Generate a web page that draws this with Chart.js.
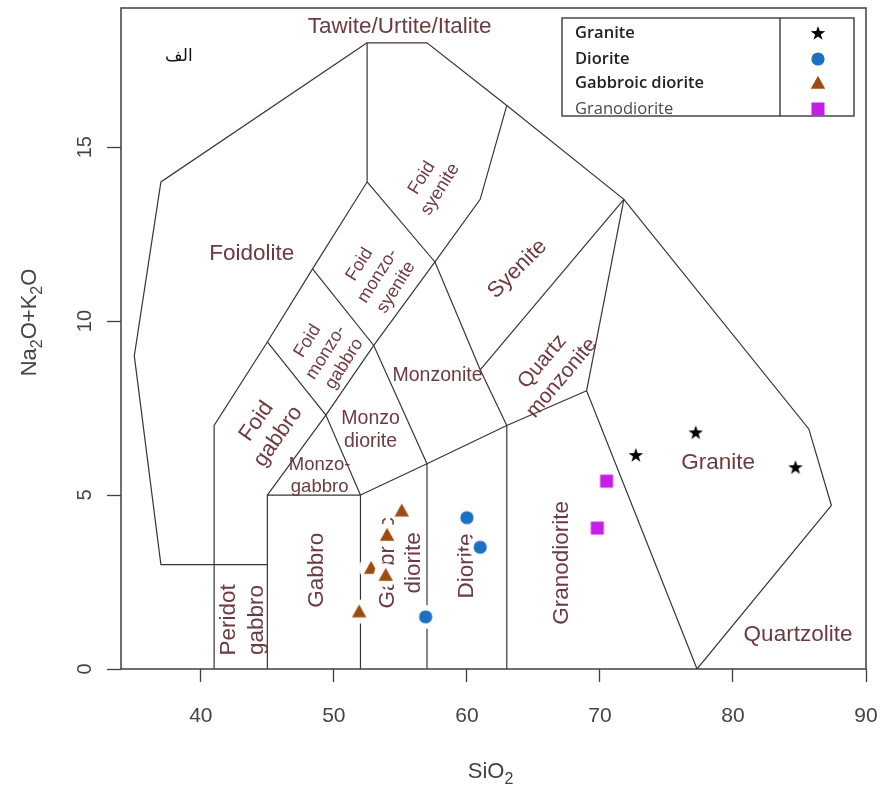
<!DOCTYPE html>
<html>
<head>
<meta charset="utf-8">
<title>TAS plutonic classification</title>
<script src="https://cdn.jsdelivr.net/npm/chart.js@4.4.1/dist/chart.umd.min.js"></script>
<style>
  html, body { margin: 0; padding: 0; background: #ffffff; }
  #wrap { width: 883px; height: 787px; }
</style>
</head>
<body>
<div id="wrap"><canvas id="tas" width="883" height="787"></canvas></div>
<script>
// ---- sample series (SiO2 wt%, Na2O+K2O wt%) ----
const seriesNames = ['Granite', 'Diorite', 'Gabbroic diorite', 'Granodiorite'];
const graniteSiO2 = [72.7, 77.2, 84.7];
const graniteAlk = [6.15, 6.8, 5.8];
const dioriteSiO2 = [60.0, 61.0, 56.9];
const dioriteAlk = [4.35, 3.5, 1.5];
const gabbroicSiO2 = [55.1, 54.0, 52.8, 53.9, 51.9];
const gabbroicAlk = [4.55, 3.85, 2.9, 2.7, 1.65];
const granodioriteSiO2 = [70.5, 69.8];
const granodioriteAlk = [5.4, 4.05];

// ---- axis ranges and ticks ----
const xRange = [34, 90];
const yRange = [0, 19];
const xTicks = [40, 50, 60, 70, 80, 90];
const yTicks = [0, 5, 10, 15];
const xTitle = [['SiO', 0], ['2', 1]];
const yTitle = [['Na', 0], ['2', 1], ['O+K', 0], ['2', 1], ['O', 0]];

// ---- field boundaries of the plutonic TAS diagram (SiO2, Na2O+K2O) ----
const outerBoundary = [[41, 0], [41, 7], [45, 9.4], [48.4, 11.5], [52.5, 14], [52.5, 18], [57, 18],
  [63, 16.2], [71.8, 13.5], [85.7, 6.9], [87.4, 4.7], [77.3, 0]];
const foidoliteBoundary = [[52.5, 18], [37, 14], [35, 9], [37, 3], [45, 3]];
const gabbroBoundary = [[45, 0], [45, 5], [52, 5], [52, 0]];
const lowerSeries = [[52, 5], [57, 5.9], [63, 7], [69, 8], [77.3, 0]];
const dioriteLeft = [[57, 0], [57, 5.9]];
const dioriteRight = [[63, 0], [63, 7]];
const graniteLeft = [[69, 8], [71.8, 13.5]];
const monzoDiagonal = [[45, 5], [49.4, 7.3], [53, 9.3], [57.6, 11.7], [61, 13.5], [63, 16.2]];
const foidGabbroRight = [[45, 9.4], [49.4, 7.3], [52, 5]];
const monzoGabbroTop = [[48.4, 11.5], [53, 9.3], [57, 5.9]];
const syeniteLower = [[52.5, 14], [57.6, 11.7], [61, 8.6], [63, 7]];
const quartzMonzoniteTop = [[61, 8.6], [71.8, 13.5]];
const fieldLines = [outerBoundary, foidoliteBoundary, gabbroBoundary, lowerSeries, dioriteLeft,
  dioriteRight, graniteLeft, monzoDiagonal, foidGabbroRight, monzoGabbroTop, syeniteLower, quartzMonzoniteTop];

// ---- field names, anchored at (SiO2, Na2O+K2O) ----
const fieldLabels = [
  { text: ['Tawite/Urtite/Italite'], at: [54.94, 18.45], rot: 0, size: 22.5 },
  { text: ['Foidolite'], at: [43.83, 11.93], rot: 0, size: 22.5 },
  { text: ['Foid', 'syenite'], at: [57.3, 13.95], rot: -58, size: 18 },
  { text: ['Foid', 'monzo-', 'syenite'], at: [53.3, 11.3], rot: -58, size: 18 },
  { text: ['Foid', 'monzo-', 'gabbro'], at: [49.4, 9.1], rot: -58, size: 18 },
  { text: ['Foid', 'gabbro'], at: [45.0, 6.9], rot: -55, size: 22 },
  { text: ['Syenite'], at: [63.8, 11.5], rot: -45, size: 22 },
  { text: ['Quartz', 'monzonite'], at: [66.4, 8.6], rot: -50, size: 21 },
  { text: ['Monzonite'], at: [57.79, 8.42], rot: 0, size: 19.5 },
  { text: ['Monzo', 'diorite'], at: [52.76, 6.87], rot: 0, size: 19.5 },
  { text: ['Monzo-', 'gabbro'], at: [48.93, 5.55], rot: 0, size: 18.5 },
  { text: ['Gabbro'], at: [48.71, 2.84], rot: -90, size: 22.5 },
  { text: ['Peridot', 'gabbro'], at: [43.15, 1.41], rot: -90, size: 22.5, lh: 1.25 },
  { text: ['Gabbroic', 'diorite'], at: [55.02, 3.05], rot: -90, size: 22.5, lh: 1.15 },
  { text: ['Diorite'], at: [59.97, 2.96], rot: -90, size: 22.5 },
  { text: ['Granodiorite'], at: [67.1, 3.05], rot: -90, size: 22.5 },
  { text: ['Granite'], at: [78.89, 5.92], rot: 0, size: 22.5 },
  { text: ['Quartzolite'], at: [84.89, 0.98], rot: 0, size: 22.5 }
];
const panelTag = { text: 'الف', at: [38.35, 17.59] };

const FONT = '"Liberation Sans", Arial, sans-serif';
const LABEL_COLOR = '#6e3a3f';
const AXIS_COLOR = '#444444';

// Marker glyphs, optionally sitting on a white disc so they stand clear of lines and names
function markerCanvas(kind, color, halo) {
  const S = 28, m = S / 2;
  const c = document.createElement('canvas');
  c.width = S; c.height = S;
  const g = c.getContext('2d');
  if (halo) {
    g.fillStyle = '#ffffff';
    g.beginPath(); g.arc(m, m, halo, 0, Math.PI * 2); g.fill();
  }
  g.fillStyle = color;
  g.beginPath();
  if (kind === 'star') {
    for (let i = 0; i < 10; i++) {
      const r = i % 2 ? 3.0 : 7.6;
      const a = -Math.PI / 2 + i * Math.PI / 5;
      g.lineTo(m + r * Math.cos(a), m + 0.5 + r * Math.sin(a));
    }
    g.closePath(); g.fill();
  } else if (kind === 'circle') {
    g.arc(m, m, 6.6, 0, Math.PI * 2); g.fill();
  } else if (kind === 'triangle') {
    g.moveTo(m, m - 7.2); g.lineTo(m + 7.2, m + 5.8); g.lineTo(m - 7.2, m + 5.8);
    g.closePath(); g.fill();
  } else {
    g.fillRect(m - 6.5, m - 6.5, 13, 13);
  }
  return c;
}

const seriesStyle = [
  { kind: 'star', color: '#000000' },
  { kind: 'circle', color: '#1b70c1' },
  { kind: 'triangle', color: '#9c4c12' },
  { kind: 'square', color: '#c41fe8' }
];
const plotMarkers = seriesStyle.map(s => markerCanvas(s.kind, s.color, 12));
const keyMarkers = seriesStyle.map(s => markerCanvas(s.kind, s.color, 0));

function toPoints(xs, ys) { return xs.map((v, i) => ({ x: v, y: ys[i] })); }
const seriesData = [
  toPoints(graniteSiO2, graniteAlk),
  toPoints(dioriteSiO2, dioriteAlk),
  toPoints(gabbroicSiO2, gabbroicAlk),
  toPoints(granodioriteSiO2, granodioriteAlk)
];

// Text with subscript runs: parts = [[string, isSub], ...]
function drawSubText(ctx, parts, cx, cy, size) {
  const sub = Math.round(size * 0.72);
  let w = 0;
  parts.forEach(([t, s]) => { ctx.font = (s ? sub : size) + 'px ' + FONT; w += ctx.measureText(t).width; });
  let x = cx - w / 2;
  ctx.textAlign = 'left';
  ctx.textBaseline = 'alphabetic';
  parts.forEach(([t, s]) => {
    ctx.font = (s ? sub : size) + 'px ' + FONT;
    ctx.fillText(t, x, cy + size * 0.36 + (s ? size * 0.28 : 0));
    x += ctx.measureText(t).width;
  });
}

const tasPlugin = {
  id: 'tasDiagram',
  beforeDatasetsDraw(chart) {
    const { ctx, chartArea: a, scales: { x, y } } = chart;
    ctx.save();
    ctx.beginPath();
    ctx.rect(a.left, a.top, a.right - a.left, a.bottom - a.top);
    ctx.clip();
    // field boundaries
    ctx.strokeStyle = '#3b3434';
    ctx.lineWidth = 1.2;
    ctx.lineJoin = 'miter';
    fieldLines.forEach(line => {
      ctx.beginPath();
      line.forEach(([sx, ay], i) => {
        const px = x.getPixelForValue(sx), py = y.getPixelForValue(ay);
        if (i) ctx.lineTo(px, py); else ctx.moveTo(px, py);
      });
      ctx.stroke();
    });
    // field names
    ctx.fillStyle = LABEL_COLOR;
    ctx.textAlign = 'center';
    ctx.textBaseline = 'middle';
    fieldLabels.forEach(l => {
      const px = x.getPixelForValue(l.at[0]), py = y.getPixelForValue(l.at[1]);
      const lh = l.size * (l.lh || 1.2);
      ctx.save();
      ctx.translate(px, py);
      ctx.rotate(l.rot * Math.PI / 180);
      ctx.font = l.size + 'px ' + FONT;
      l.text.forEach((t, i) => ctx.fillText(t, 0, (i - (l.text.length - 1) / 2) * lh));
      ctx.restore();
    });
    // panel tag
    ctx.fillStyle = '#111111';
    ctx.font = '17px "DejaVu Sans", sans-serif';
    ctx.fillText(panelTag.text, x.getPixelForValue(panelTag.at[0]), y.getPixelForValue(panelTag.at[1]));
    ctx.restore();
  },
  afterDraw(chart) {
    const { ctx, chartArea: a, scales: { x, y } } = chart;
    ctx.save();
    // plot frame
    ctx.strokeStyle = '#3f3f3f';
    ctx.lineWidth = 1.5;
    ctx.strokeRect(a.left, a.top, a.right - a.left, a.bottom - a.top);
    // tick labels: x below the axis, y written along the axis
    ctx.fillStyle = AXIS_COLOR;
    ctx.font = '21px ' + FONT;
    ctx.textAlign = 'center';
    ctx.textBaseline = 'middle';
    x.ticks.forEach(t => {
      ctx.fillText(String(t.value), x.getPixelForValue(t.value), a.bottom + 47);
    });
    ctx.font = '20px ' + FONT;
    y.ticks.forEach(t => {
      ctx.save();
      ctx.translate(a.left - 36, y.getPixelForValue(t.value));
      ctx.rotate(-Math.PI / 2);
      ctx.fillText(String(t.value), 0, 0);
      ctx.restore();
    });
    // axis titles
    ctx.fillStyle = AXIS_COLOR;
    drawSubText(ctx, xTitle, (a.left + a.right) / 2 - 3, 770, 22);
    ctx.save();
    ctx.translate(28, (a.top + a.bottom) / 2 - 16);
    ctx.rotate(-Math.PI / 2);
    drawSubText(ctx, yTitle, 0, 0, 22);
    ctx.restore();
    // key box
    const bx = 562, by = 18, bw = 292, bh = 98, div = 780;
    ctx.strokeStyle = '#3a3a3a';
    ctx.lineWidth = 1.4;
    ctx.strokeRect(bx, by, bw, bh);
    ctx.beginPath(); ctx.moveTo(div, by); ctx.lineTo(div, by + bh); ctx.stroke();
    const rows = [33, 59, 83, 109];
    ctx.textAlign = 'left';
    ctx.textBaseline = 'middle';
    seriesNames.forEach((name, i) => {
      const last = i === seriesNames.length - 1;
      ctx.font = (last ? '400 ' : '600 ') + '16.5px "Open Sans", sans-serif';
      ctx.fillStyle = last ? '#4a4a4a' : '#222222';
      ctx.fillText(name, 575, rows[i]);
      const m = keyMarkers[i];
      ctx.drawImage(m, 818 - m.width / 2, rows[i] - m.height / 2);
    });
    ctx.restore();
  }
};

new Chart(document.getElementById('tas'), {
  type: 'scatter',
  data: {
    datasets: seriesNames.map((name, i) => ({
      label: name,
      data: seriesData[i],
      pointStyle: plotMarkers[i],
      pointRadius: 7,
      pointHoverRadius: 7,
      showLine: false
    }))
  },
  options: {
    responsive: false,
    devicePixelRatio: 1,
    animation: false,
    events: [],
    layout: { padding: { left: 0, top: 8, right: 17, bottom: 0 } },
    plugins: { legend: { display: false }, tooltip: { enabled: false } },
    scales: {
      x: {
        type: 'linear',
        min: xRange[0], max: xRange[1],
        afterBuildTicks(s) { s.ticks = xTicks.map(v => ({ value: v })); },
        ticks: { display: false },
        grid: { drawOnChartArea: false, drawTicks: true, tickLength: 13, tickColor: '#3f3f3f', tickWidth: 1.3 },
        border: { display: false },
        afterFit(s) { s.height = 118; }
      },
      y: {
        type: 'linear',
        min: yRange[0], max: yRange[1],
        afterBuildTicks(s) { s.ticks = yTicks.map(v => ({ value: v })); },
        ticks: { display: false },
        grid: { drawOnChartArea: false, drawTicks: true, tickLength: 14, tickColor: '#3f3f3f', tickWidth: 1.3 },
        border: { display: false },
        afterFit(s) { s.width = 121; }
      }
    }
  },
  plugins: [tasPlugin]
});
</script>
</body>
</html>
